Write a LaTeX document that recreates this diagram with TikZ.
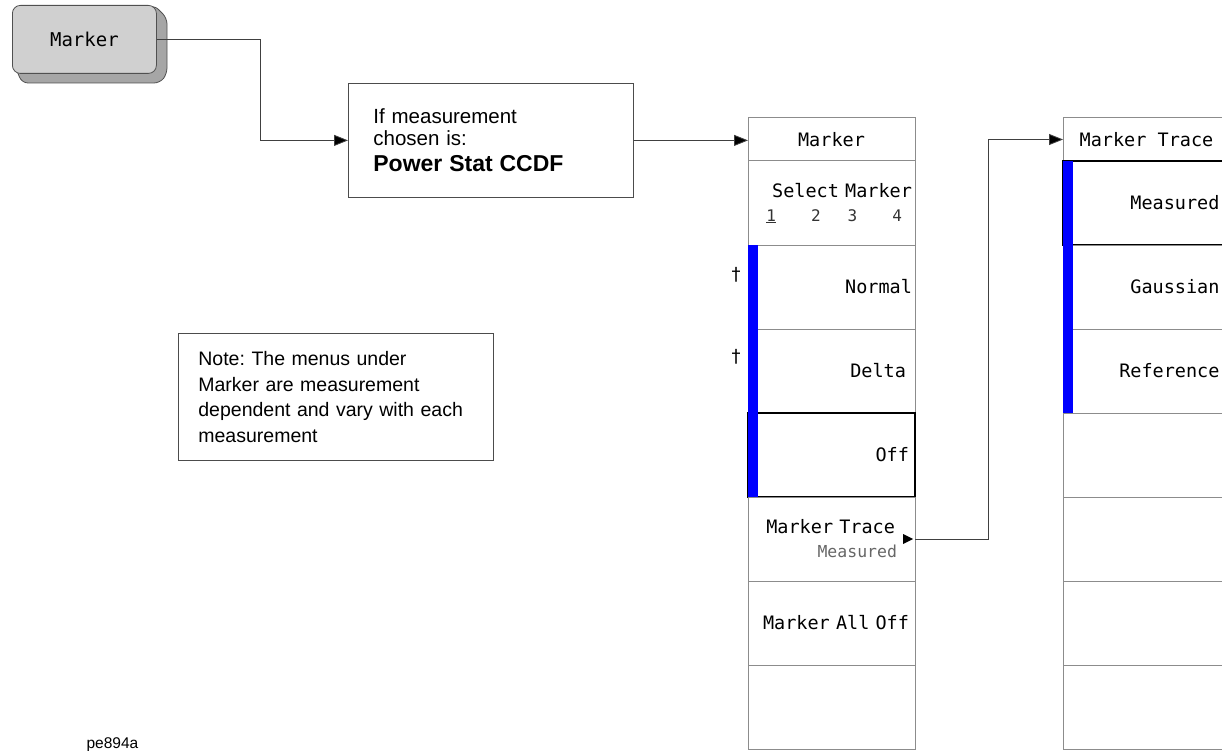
\documentclass[tikz,border=0pt]{standalone}
\usepackage{fontspec}
\setmainfont{Liberation Sans}
\newfontfamily\menufont{DejaVu Sans Mono}
\newfontfamily\symfont{DejaVu Sans}
\usetikzlibrary{positioning,arrows.meta}

\definecolor{keyface}{HTML}{D0D0D0}
\definecolor{keyside}{HTML}{A6A6A6}
\definecolor{keyline}{HTML}{505050}
\definecolor{menuline}{HTML}{8C8C8C}
\definecolor{barblue}{HTML}{0000FF}

\tikzset{
    conn/.style={draw=black!75, line width=0.8pt},
    arr/.style={conn, -{Triangle[length=14pt,width=11pt,fill=black]}},
    menuhead/.style={draw=menuline, line width=1pt, minimum width=167pt,
        minimum height=43pt, inner sep=0pt, outer sep=0pt,
        font=\menufont\fontsize{18.5}{22}\selectfont},
    softkey/.style={draw=menuline, line width=1pt, text width=161pt,
        inner xsep=3pt, inner ysep=0pt, minimum height=84pt, outer sep=0pt,
        align=right, font=\menufont\fontsize{18.5}{24}\selectfont},
    softkeyb/.style={softkey, text width=156pt, inner xsep=5.5pt},
    activekey/.style={draw=black, line width=2pt},
    textbox/.style={draw=black!70, line width=0.8pt, inner ysep=0pt,
        align=left, anchor=north west},
    bluebar/.style={fill=barblue},
}

\begin{document}
\frenchspacing
\begin{tikzpicture}[x=1pt,y=-1pt]

            \useasboundingbox (0,0) rectangle (1222,751);
            \clip (0,0) rectangle (1222,751);

            %---------------- TECLA ----------------
            \filldraw[fill=keyside, draw=keyline, line width=0.8pt, rounded corners=6pt]
            (14,64) -- (22,83) -- (160,83) -- (167,74) -- (167,18) -- (154,5) -- cycle;

            \node[draw=keyline, fill=keyface, line width=0.8pt, rounded corners=8pt,
                minimum width=144pt, minimum height=68pt, inner sep=0pt,
                anchor=north west, font=\menufont\fontsize{19}{22}\selectfont]
            (hardkey) at (12,5) {Marker};

            %---------------- CAJAS DE TEXTO ----------------
            \node[textbox, text width=235pt, inner xsep=25pt, minimum height=114pt,
                font=\fontsize{20.5}{22}\selectfont]
            (cond) at (348,83)
            {If measurement\\chosen is:\\[4pt]{\bfseries\fontsize{23}{26}\selectfont Power Stat CCDF}};

            \node[textbox, text width=275pt, inner xsep=20pt, minimum height=127pt,
                font=\fontsize{19.5}{25.7}\selectfont]
            (note) at (178,333)
            {Note: The menus under\\Marker are measurement\\dependent and vary with each\\measurement};

            %---------------- MENU MARKER ----------------
            \node[menuhead, anchor=north west] (mhead) at (748,118) {Marker};
            \node[softkey, below=0pt of mhead] (msel)
            {Select Marker\\{\fontsize{16}{20}\selectfont\color{black!80}\underline{1}\hspace{35pt}2\hspace{27pt}3\hspace{35pt}4\rule{10pt}{0pt}}};
            \node[softkey, below=0pt of msel] (mnormal) {Normal};
            \node[softkey, below=0pt of mnormal] (mdelta) {Delta\rule{6pt}{0pt}};
            \node[softkey, activekey, below=0pt of mdelta] (moff) {Off\rule{3pt}{0pt}};
            \node[softkey, below=0pt of moff] (mtrace)
            {Marker Trace\rule{17pt}{0pt}\\{\fontsize{16.5}{20}\selectfont\color{black!60}Measured}\rule{15pt}{0pt}};
            \node[softkey, below=0pt of mtrace] (malloff) {Marker All Off\rule{3pt}{0pt}};
            \node[softkey, below=0pt of malloff] (mblank) {};

            \fill[bluebar] (mnormal.north west) rectangle ([xshift=10pt]moff.south west);

            \node[font=\symfont\fontsize{18}{22}\selectfont] (dag1) at (736,275) {\textdagger};
            \node[font=\symfont\fontsize{18}{22}\selectfont] (dag2) at (736,357) {\textdagger};

            %---------------- MENU MARKER TRACE ----------------
            \node[menuhead, anchor=north west] (thead) at (1063,118) {Marker Trace};
            \node[softkeyb, activekey, below=0pt of thead] (tmeas) {Measured\rule{5pt}{0pt}};
            \node[softkeyb, below=0pt of tmeas] (tgauss) {Gaussian\rule{5pt}{0pt}};
            \node[softkeyb, below=0pt of tgauss] (tref) {Reference\rule{5pt}{0pt}};
            \node[softkeyb, below=0pt of tref] (tblanka) {};
            \node[softkeyb, below=0pt of tblanka] (tblankb) {};
            \node[softkeyb, below=0pt of tblankb] (tblankc) {};
            \node[softkeyb, below=0pt of tblankc] (tblankd) {};

            \fill[bluebar] (tmeas.north west) rectangle ([xshift=10pt]tref.south west);

            %---------------- CONEXIONES ----------------
            \draw[arr] (hardkey.east) -- ++(104,0) |- (cond.west);
            \draw[arr] (cond.east) -- (cond.east -| mhead.west);
            \draw[arr] (mtrace.east) -- ++(73,0) |- (thead.west);
            \fill[black] ([xshift=-2pt]mtrace.east) -- ++(-10,-5) -- ++(0,10) -- cycle;

            %---------------- ETIQUETA ----------------
            \node[anchor=base west, font=\fontsize{15.5}{18}\selectfont]
            (figid) at (83,748) {pe894a};

        \end{tikzpicture}
\end{document}
